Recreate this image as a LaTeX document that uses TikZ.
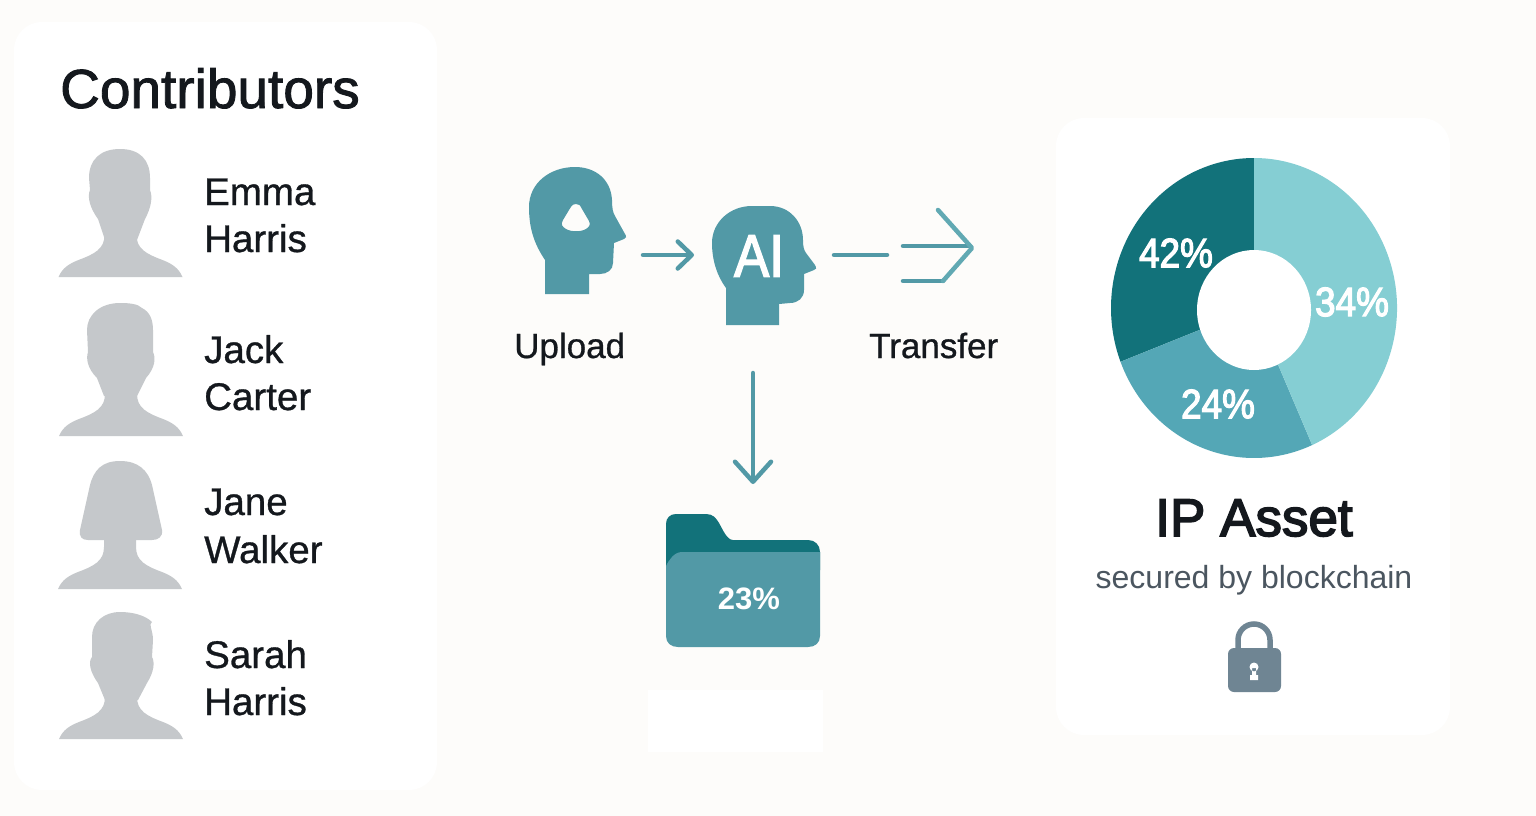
\documentclass[tikz,border=0pt]{standalone}
\usepackage{fontspec}
\setmainfont{Liberation Sans}
\usetikzlibrary{arrows.meta}
\definecolor{paper}{HTML}{FDFCFA}
\definecolor{inkdark}{HTML}{14181D}
\definecolor{inkgrey}{HTML}{4B5660}
\definecolor{bust}{HTML}{C5C8CB}
\definecolor{tealhead}{HTML}{5299A6}
\definecolor{tealdark}{HTML}{12727A}
\definecolor{tealmid}{HTML}{54A7B6}
\definecolor{teallight}{HTML}{85CED3}
\definecolor{locked}{HTML}{6F8593}

\begin{document}
\begin{tikzpicture}
      [
        x=1pt,y=-1pt,
        card/.style={fill=white,rounded corners=28pt},
        person/.style={fill=bust},
        who/.style={anchor=base west,inner sep=0,text=inkdark,font=\fontsize{38.5}{38.5}\selectfont\addfontfeature{FakeBold=0.8}},
        steptext/.style={anchor=base west,inner sep=0,text=inkdark,font=\fontsize{35}{35}\selectfont\addfontfeature{FakeBold=0.8}},
        pct/.style={text=white,inner sep=0,xscale=0.9,transform shape,font=\fontsize{41}{41}\selectfont\addfontfeature{FakeBold=3}},
        flow/.style={draw=tealhead,line width=4.5pt,line cap=round,line join=round},
        tipsmall/.style={-{Straight Barb[length=14pt,width=27pt,line width=4.5pt,round]}},
        tipbig/.style={-{Straight Barb[length=20pt,width=36pt,line width=4.5pt,round]}}
      ]
      \useasboundingbox (0,0) rectangle (1536,816);
      \fill [paper] (0,0) rectangle (1536,816);
      % cards
      \fill [card] (14,22) rectangle (437,790);
      \fill [card] (1056,118) rectangle (1450,735);
      \fill [white] (648,690) rectangle (823,752);
      % contributors
      \node [anchor=base west,inner sep=0,text=inkdark,font=\fontsize{55}{55}\selectfont\addfontfeature{FakeBold=1.6}] (contributors) at (60,108) {Contributors};
      \foreach \x/\y in {120.5/277,121/436,120/589,121/739} {
          \fill [person] (\x-62,\y) .. controls (\x-58,\y-9) and (\x-52,\y-13) .. (\x-42,\y-17)
          .. controls (\x-26,\y-23) and (\x-16,\y-28) .. (\x-16,\y-42) -- (\x-16,\y-60) -- (\x+16,\y-60) -- (\x+16,\y-42)
          .. controls (\x+16,\y-28) and (\x+26,\y-23) .. (\x+42,\y-17)
          .. controls (\x+52,\y-13) and (\x+58,\y-9) .. (\x+62,\y) -- cycle;
      }
      % emma
      \fill [person] (120,149) .. controls (140,149) and (150,160) .. (150,178) -- (150,190)
      .. controls (153,197) and (151,208) .. (145,219) -- (137,240) -- (105,240) -- (98,219)
      .. controls (90,208) and (87,197) .. (90,190) -- (89,178) .. controls (89,160) and (100,149) .. (120,149) -- cycle;
      % jack
      \fill [person] (120,303) .. controls (130,303) and (138,304) .. (142,308) .. controls (150,312) and (153,320) .. (153,330)
      -- (153,352) .. controls (156,358) and (155,368) .. (146,378) -- (137,396) -- (104,396) -- (97,378)
      .. controls (87,368) and (86,358) .. (88,352) -- (87,330) .. controls (87,315) and (100,303) .. (120,303) -- cycle;
      % jane
      \fill [person] (120,461) .. controls (138,461) and (148,470) .. (152,485) -- (162,530) .. controls (163,537) and (158,540) .. (152,540)
      -- (88,540) .. controls (82,540) and (79,537) .. (80,530) -- (90,485) .. controls (94,470) and (102,461) .. (120,461) -- cycle;
      % sarah
      \fill [person] (120,612) .. controls (132,612) and (145,615) .. (152,622) .. controls (148,624) and (153,630) .. (153,640)
      -- (152,657) .. controls (155,662) and (154,672) .. (147,683) -- (138,700) -- (105,700) -- (98,683)
      .. controls (90,672) and (88,662) .. (92,657) -- (92,637) .. controls (92,622) and (104,612) .. (120,612) -- cycle;
      % names
      \foreach \t/\y in {Emma/205,Harris/252,Jack/363,Carter/410,Jane/515,Walker/563,Sarah/668,Harris/715} {
          \node [who] (n\y) at (204,\y) {\t};
      }
      % upload head
      \fill [tealhead,even odd rule] (545,294) -- (545,260) .. controls (535,245) and (529,230) .. (529,207)
      .. controls (529,183) and (550,167) .. (575,167) .. controls (596,167) and (611,180) .. (612,200)
      .. controls (612,208) and (613,213) .. (615,216) -- (625,234) .. controls (627,237) and (626,238) .. (624,239)
      -- (614,243) -- (613,263) .. controls (613,270) and (607,274) .. (600,274) -- (589,274) -- (589,294) -- cycle
      (576,204) .. controls (572,204) and (571,207) .. (569,210) -- (563,220) .. controls (560,225) and (563,227) .. (566,229)
      .. controls (571,232) and (581,232) .. (586,229) .. controls (589,227) and (591,225) .. (589,221) -- (582,209)
      .. controls (580,205) and (579,204) .. (576,204) -- cycle;
      % ai head
      \fill [tealhead] (726,325) -- (726,288) .. controls (717,276) and (712,260) .. (712,243)
      .. controls (712,222) and (730,206) .. (752,206) -- (770,206) .. controls (790,206) and (803,222) .. (803,240)
      .. controls (803,247) and (804,250) .. (806,253) -- (815,265) .. controls (817,268) and (816,270) .. (814,270)
      -- (804,274) -- (804,290) .. controls (804,298) and (798,303) .. (790,303) -- (779,304) -- (779,325) -- cycle;
      \node [text=white,inner sep=0,xscale=0.88,transform shape,font=\fontsize{60}{60}\selectfont\addfontfeature{FakeBold=2.5}] (ai) at (759,256) {AI};
      % labels
      \node [steptext] (upload) at (514,358) {Upload};
      \node [steptext] (transfer) at (869,358) {Transfer};
      % arrows
      \coordinate (a1) at (643,255);
      \coordinate (a2) at (694,255);
      \coordinate (a3) at (834,255);
      \coordinate (a4) at (887,255);
      \coordinate (a5) at (753,373);
      \coordinate (a6) at (753,484);
      \draw [flow,tipsmall] (a1) -- (a2);
      \draw [flow] (a3) -- (a4);
      \draw [flow,tipbig] (a5) -- (a6);
      % transfer arrow
      \coordinate (t1) at (903,246);
      \coordinate (t2) at (970,246);
      \coordinate (t3) at (903,281);
      \coordinate (t4) at (943,281);
      \coordinate (t5) at (972,248);
      \coordinate (t6) at (938,210);
      \draw [flow] (t1) -- (t2);
      \draw [flow] (t3) -- (t4);
      \draw [flow,draw=tealhead!70!teallight] (t4) -- (t5) -- (t6);
      % folder
      \fill [tealdark] (666,563) -- (666,524) .. controls (666,518) and (670,514) .. (676,514) -- (706,514)
      .. controls (713,514) and (716,518) .. (719,523) .. controls (723,530) and (727,540) .. (733,540) -- (808,540)
      .. controls (815,540) and (820,545) .. (820,552) -- (820,570) -- (666,570) -- cycle;
      \fill [tealhead] (666,566) .. controls (669,560) and (674,552) .. (682,552) -- (820,552) -- (820,636)
      .. controls (820,643) and (815,647) .. (808,647) -- (678,647) .. controls (671,647) and (666,643) .. (666,636) -- cycle;
      \node [text=white,inner sep=0,font=\bfseries\fontsize{31}{31}\selectfont] (folderpct) at (749,599) {23\%};
      % donut
      \foreach \a/\b/\c in {-90/-201/tealdark,-201/-294/tealmid,-294/-450/teallight} {
          \fill [\c] (1254,308) -- ++(\a:143 and 150) arc [start angle=\a,end angle=\b,x radius=143,y radius=150] -- cycle;
      }
      \fill [white] (1254,310) ellipse [x radius=57,y radius=60];
      \node [pct] (p42) at (1176,253) {42\%};
      \node [pct] (p34) at (1352,302) {34\%};
      \node [pct] (p24) at (1218,404) {24\%};
      % asset
      \node [text=inkdark,inner sep=0,anchor=base,font=\fontsize{53}{53}\selectfont\addfontfeature{FakeBold=3}] (asset) at (1254,536) {IP Asset};
      \node [text=inkgrey,inner sep=0,anchor=base,font=\fontsize{32}{32}\selectfont] (secured) at (1254,588) {secured by blockchain};
      % lock
      \draw [locked,line width=5.5pt] (1238,650) -- (1238,640) arc [start angle=180,end angle=360,radius=16] -- (1270,650);
      \fill [locked,rounded corners=6pt] (1228,648) rectangle (1281,692);
      \fill [white] (1254,667) circle (4.5) (1252,668) rectangle (1256,677) (1250,675) rectangle (1258,680);
    \end{tikzpicture}
\end{document}
